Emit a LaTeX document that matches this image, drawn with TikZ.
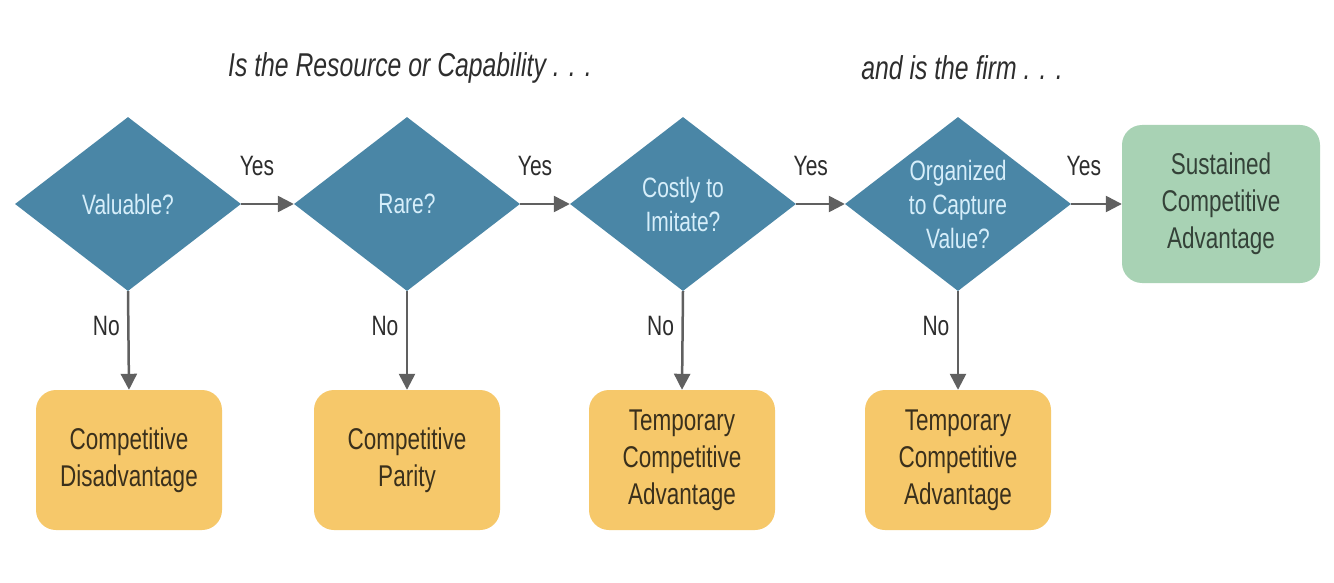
\documentclass[tikz,border=0pt]{standalone}
\usepackage{fontspec}
\setmainfont{Liberation Sans}[FakeStretch=0.75]
\usetikzlibrary{shapes.geometric,arrows.meta}
\definecolor{blueD}{RGB}{74,134,166}
\definecolor{blueT}{RGB}{214,238,250}
\definecolor{orangeB}{RGB}{246,200,106}
\definecolor{brownT}{RGB}{58,48,28}
\definecolor{greenB}{RGB}{168,210,180}
\definecolor{greenT}{RGB}{52,66,56}
\definecolor{arrowG}{RGB}{96,96,96}
\definecolor{titleT}{RGB}{45,45,45}
\tikzset{
  decision/.style={diamond, fill=blueD, draw=none, inner sep=0pt, minimum width=226pt, minimum height=174pt},
  dtext/.style={text=blueT, font=\fontsize{28}{34}\selectfont, align=center},
  outcome/.style={rectangle, rounded corners=20pt, fill=orangeB, draw=none, minimum width=186pt, minimum height=140pt, text=brownT, font=\fontsize{30}{37}\selectfont, align=center},
  success/.style={rectangle, rounded corners=20pt, fill=greenB, draw=none, minimum width=198pt, minimum height=158pt, text=greenT, font=\fontsize{30}{37}\selectfont, align=center},
  flow/.style={draw=arrowG, line width=2.5pt, -{Triangle[length=16pt,width=16pt]}},
  lbl/.style={text=titleT, font=\fontsize{28}{30}\selectfont},
  heading/.style={text=titleT, font=\fontsize{33}{36}\selectfont\itshape}
}
\begin{document}
\begin{tikzpicture}[x=1pt,y=-1pt]
\fill[white] (0,0) rectangle (1334,583);
\useasboundingbox (0,0) rectangle (1334,583);

\node[heading] (h1) at (410,68) {Is the Resource or Capability . . .};
\node[heading] (h2) at (962,68) {and is the firm . . .};

\node[decision, label={[dtext]center:Valuable?}] (d1) at (128,204) {};
\node[decision, label={[dtext]center:Rare?}] (d2) at (407,204) {};
\node[decision, label={[dtext]center:Costly to\\Imitate?}] (d3) at (683,204) {};
\node[decision, label={[dtext]center:Organized\\to Capture\\Value?}] (d4) at (958,204) {};

\node[success] (s) at (1221,204) {Sustained\\Competitive\\Advantage};

\node[outcome] (o1) at (129,460) {Competitive\\Disadvantage};
\node[outcome] (o2) at (407,460) {Competitive\\Parity};
\node[outcome] (o3) at (682,460) {Temporary\\Competitive\\Advantage};
\node[outcome] (o4) at (958,460) {Temporary\\Competitive\\Advantage};

\draw[flow] (d1.east) -- node[lbl, pos=0.3, yshift=38pt] (y1) {Yes} (d2.west);
\draw[flow] (d2.east) -- node[lbl, pos=0.3, yshift=38pt] (y2) {Yes} (d3.west);
\draw[flow] (d3.east) -- node[lbl, pos=0.3, yshift=38pt] (y3) {Yes} (d4.west);
\draw[flow] (d4.east) -- node[lbl, pos=0.25, yshift=38pt] (y4) {Yes} (s.west);

\draw[flow] (d1.south) -- node[lbl, pos=0.35, left=4pt] (n1) {No} (o1.north);
\draw[flow] (d2.south) -- node[lbl, pos=0.35, left=4pt] (n2) {No} (o2.north);
\draw[flow] (d3.south) -- node[lbl, pos=0.35, left=4pt] (n3) {No} (o3.north);
\draw[flow] (d4.south) -- node[lbl, pos=0.35, left=4pt] (n4) {No} (o4.north);
\end{tikzpicture}
\end{document}
